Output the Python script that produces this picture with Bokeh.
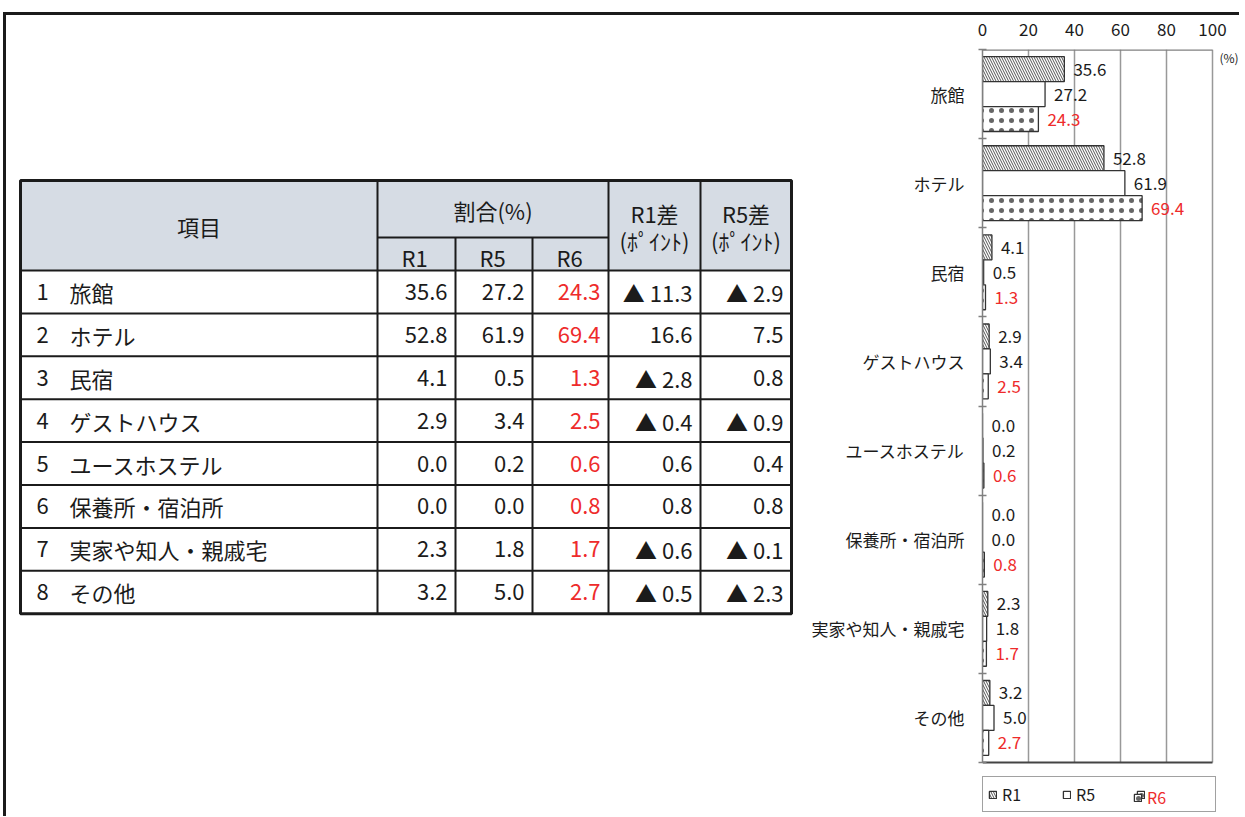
from bokeh.plotting import figure
from bokeh.layouts import row
from bokeh.models import (ColumnDataSource, Range1d, Legend, LegendItem, Label, FixedTicker)
from bokeh.transform import dodge
from bokeh.core.properties import value
from bokeh.embed import file_html
from bokeh.resources import INLINE

# ---------------- data ----------------
items = ["旅館", "ホテル", "民宿", "ゲストハウス", "ユースホステル",
         "保養所・宿泊所", "実家や知人・親戚宅", "その他"]
r1 = [35.6, 52.8, 4.1, 2.9, 0.0, 0.0, 2.3, 3.2]
r5 = [27.2, 61.9, 0.5, 3.4, 0.2, 0.0, 1.8, 5.0]
r6 = [24.3, 69.4, 1.3, 2.5, 0.6, 0.8, 1.7, 2.7]
diff_r1 = [-11.3, 16.6, -2.8, -0.4, 0.6, 0.8, -0.6, -0.5]
diff_r5 = [-2.9, 7.5, 0.8, -0.9, 0.4, 0.8, -0.1, -2.3]
series = ["R1", "R5", "R6"]
x_ticks = [0, 20, 40, 60, 80, 100]
grid_ticks = [20, 40, 60, 80, 100]
head_item = "項目"
head_share = "割合(%)"
head_d1 = "R1差"
head_d5 = "R5差"
head_pt = "(ﾎﾟｲﾝﾄ)"
unit_label = "(%)"

FONT = "Noto Sans CJK JP"
BLACK = "#1b1b1b"
RED = "#ee2b2b"

# ---------------- geometry (page pixels) ----------------
ORG_X, ORG_Y = 6, 15          # content origin after the CSS page rule
H = 801
LEFT_W, RIGHT_W = 800, 433
FRAME_TOP = 49
FRAME_BOT = ORG_Y + H          # 816: frames reach the canvas bottom
PLOT_BOT = 762                 # bottom of the category area
B_TOP = FRAME_TOP - ORG_Y
CH_LEFT = 982                  # chart x = 0
CH_100 = 1212                  # chart x = 100
R_ORIGIN = ORG_X + LEFT_W
X_END = 100 * (R_ORIGIN + RIGHT_W - CH_LEFT) / (CH_100 - CH_LEFT)

n = len(items)
PX_PER_CAT = (PLOT_BOT - FRAME_TOP) / n
Y_START = -0.5 + (FRAME_BOT - FRAME_TOP) / PX_PER_CAT


def fmt(v):
    return f"{v:.1f}"


def fmt_diff(v):
    return ("▲ " + f"{abs(v):.1f}") if v < 0 else f"{v:.1f}"


# ---------------- left: table ----------------
left = figure(width=LEFT_W, height=H, x_range=Range1d(ORG_X, ORG_X + LEFT_W),
              y_range=Range1d(FRAME_BOT, FRAME_TOP),
              x_axis_type=None, y_axis_type=None, toolbar_location=None,
              output_backend="svg", min_border_left=0, min_border_right=0,
              min_border_top=B_TOP, min_border_bottom=0)
left.outline_line_color = None

COLS = [20, 377, 455, 532, 608, 700, 791]
HEAD_TOP, HEAD_MID, HEAD_BOT = 180, 237, 270
ROW_H = 42.9
TAB_BOT = HEAD_BOT + ROW_H * n

left.quad(left=[COLS[0]], right=[COLS[-1]], top=[HEAD_TOP], bottom=[HEAD_BOT],
          fill_color="#D6DCE4", line_color=None)

hx0, hx1, hy = [], [], []
hx0.append(COLS[1]); hx1.append(COLS[4]); hy.append(HEAD_MID)
for i in range(n):
    hx0.append(COLS[0]); hx1.append(COLS[-1]); hy.append(HEAD_BOT + ROW_H * i)
left.segment(x0=hx0, x1=hx1, y0=hy, y1=hy, line_color=BLACK, line_width=2)
vx, vy0 = [], []
for k in range(1, 6):
    vx.append(COLS[k])
    vy0.append(HEAD_MID if k in (2, 3) else HEAD_TOP)
left.segment(x0=vx, x1=vx, y0=vy0, y1=[TAB_BOT] * len(vx), line_color=BLACK, line_width=2)
left.quad(left=[COLS[0]], right=[COLS[-1]], top=[HEAD_TOP], bottom=[TAB_BOT],
          fill_color=None, line_color=BLACK, line_width=3)

TFS = value("22px")
hsrc = ColumnDataSource(dict(
    x=[(COLS[0] + COLS[1]) / 2, (COLS[1] + COLS[4]) / 2,
       (COLS[4] + COLS[5]) / 2, (COLS[4] + COLS[5]) / 2,
       (COLS[5] + COLS[6]) / 2, (COLS[5] + COLS[6]) / 2],
    y=[225, 209, 212, 239, 212, 239],
    t=[head_item, head_share, head_d1, head_pt, head_d5, head_pt]))
left.text(x="x", y="y", text="t", source=hsrc, text_align="center", text_baseline="middle",
          text_font=value(FONT), text_font_size=TFS, text_color=BLACK)
ssrc = ColumnDataSource(dict(x=[COLS[k] + 24 for k in (1, 2, 3)], y=[256] * 3, t=series))
left.text(x="x", y="y", text="t", source=ssrc, text_align="left", text_baseline="middle",
          text_font=value(FONT), text_font_size=TFS, text_color=BLACK)

yc = [HEAD_BOT + ROW_H * (i + 0.5) for i in range(n)]
lsrc = ColumnDataSource(dict(xn=[36] * n, xt=[69] * n, y=yc,
                             num=[str(i + 1) for i in range(n)], name=items))
left.text(x="xn", y="y", text="num", source=lsrc, text_align="left", text_baseline="middle",
          text_font=value(FONT), text_font_size=TFS, text_color=BLACK)
left.text(x="xt", y="y", text="name", source=lsrc, text_align="left", text_baseline="middle",
          text_font=value(FONT), text_font_size=TFS, text_color=BLACK)

cx, cy, ct, cc = [], [], [], []
for i in range(n):
    vals = [fmt(r1[i]), fmt(r5[i]), fmt(r6[i]), fmt_diff(diff_r1[i]), fmt_diff(diff_r5[i])]
    for j, s in enumerate(vals):
        cx.append(COLS[j + 2] - 8)
        cy.append(yc[i])
        ct.append(s)
        cc.append(RED if j == 2 else BLACK)
csrc = ColumnDataSource(dict(x=cx, y=cy, t=ct, c=cc))
left.text(x="x", y="y", text="t", text_color="c", source=csrc, text_align="right",
          text_baseline="middle", text_font=value(FONT), text_font_size=TFS)

# ---------------- right: bar chart ----------------
pos = list(range(n))   # category index, 0 = top
p = figure(width=RIGHT_W, height=H, x_range=Range1d(0, X_END),
           y_range=Range1d(Y_START, -0.5),
           x_axis_location="above", toolbar_location=None, output_backend="svg",
           min_border_left=CH_LEFT - R_ORIGIN, min_border_right=0, min_border_top=B_TOP,
           min_border_bottom=0)
p.outline_line_color = None
p.xgrid.visible = False
p.ygrid.visible = False

# vertical grid lines, only over the category area
p.segment(x0=grid_ticks, x1=grid_ticks, y0=[-0.5] * len(grid_ticks),
          y1=[n - 0.5] * len(grid_ticks), line_color="#999999", line_width=1.5)
# plot box top (grey) and bottom (dark)
p.segment(x0=[0], x1=[x_ticks[-1]], y0=[-0.5], y1=[-0.5], line_color="#808080", line_width=2.5)
p.segment(x0=[0], x1=[x_ticks[-1]], y0=[n - 0.5], y1=[n - 0.5], line_color="#444444",
          line_width=2)

src = ColumnDataSource(dict(pos=pos, r1=r1, r5=r5, r6=r6,
                            l1=[fmt(v) for v in r1], l5=[fmt(v) for v in r5],
                            l6=[fmt(v) for v in r6]))
OFF = 0.28
BH = 0.28
common = dict(source=src, left=0, height=BH, line_color="#333333", line_width=1.3)
b1 = p.hbar(y=dodge("pos", -OFF), right="r1", fill_color="white",
            hatch_pattern="left_diagonal_line", hatch_color="#555555", hatch_scale=5,
            hatch_weight=1, **common)
b5 = p.hbar(y=dodge("pos", 0), right="r5", fill_color="white", **common)
b6 = p.hbar(y=dodge("pos", OFF), right="r6", fill_color="white",
            hatch_pattern="dot", hatch_color="#666666", hatch_scale=10, hatch_weight=0.7,
            **common)

VFS = value("17px")
for key, off, col in (("l1", -OFF, BLACK), ("l5", 0, BLACK), ("l6", OFF, RED)):
    p.text(x=key.replace("l", "r"), y=dodge("pos", off), text=key, source=src,
           x_offset=9, text_baseline="middle", text_align="left",
           text_font=value(FONT), text_font_size=VFS, text_color=col)

p.xaxis.ticker = FixedTicker(ticks=x_ticks)
p.xaxis.axis_line_color = None
p.xaxis.major_tick_line_color = None
p.xaxis.minor_tick_line_color = None
p.xaxis.major_label_standoff = 8
p.xaxis.major_label_text_font = FONT
p.xaxis.major_label_text_font_size = "17px"
p.xaxis.major_label_text_color = BLACK

p.yaxis.ticker = FixedTicker(ticks=pos, minor_ticks=[i - 0.5 for i in range(n + 1)])
p.yaxis.major_label_overrides = {i: name for i, name in zip(pos, items)}
p.yaxis.bounds = (-0.5, n - 0.5)
p.yaxis.axis_line_color = "#808080"
p.yaxis.axis_line_width = 1.5
p.yaxis.major_tick_line_color = None
p.yaxis.major_tick_in = 0
p.yaxis.major_tick_out = 0
p.yaxis.minor_tick_line_color = "#808080"
p.yaxis.minor_tick_line_width = 1.5
p.yaxis.minor_tick_in = 4
p.yaxis.minor_tick_out = 4
p.yaxis.major_label_standoff = 14
p.yaxis.major_label_text_font = FONT
p.yaxis.major_label_text_font_size = "17px"
p.yaxis.major_label_text_color = BLACK

# unit label "(%)" to the right of the plot box, near its top
p.add_layout(Label(x=x_ticks[-1] + 3, y=FRAME_BOT - 57, x_units="data", y_units="screen",
                   text=unit_label, text_font=FONT, text_font_size="12px",
                   text_baseline="middle", text_color=BLACK))

# legend below the category area (inside the extended frame)
leg_style = dict(orientation="horizontal", spacing=0, glyph_width=9, glyph_height=9,
                 label_standoff=5, label_height=20, label_text_font=FONT,
                 label_text_font_size="16px")
legend = Legend(items=[LegendItem(label=series[0], renderers=[b1]),
                       LegendItem(label=series[1], renderers=[b5]),
                       LegendItem(label=" ", renderers=[b6])],
                location=(0, 4), padding=5, label_width=60,
                border_line_color="#444444", border_line_width=1.5,
                label_text_color=BLACK, **leg_style)
p.add_layout(legend)
legend_r6 = Legend(items=[LegendItem(label=series[2], renderers=[b6])],
                   location=(151, 7), padding=2, label_width=30,
                   border_line_color=None, background_fill_alpha=0,
                   label_text_color=RED, **leg_style)
p.add_layout(legend_r6)

layout = row(left, p, styles={"border-top": "3px solid #1b1b1b",
                              "border-left": "3px solid #1b1b1b",
                              "margin-top": "12px", "margin-left": "3px"})
open("out.html", "w").write(file_html(layout, INLINE))
